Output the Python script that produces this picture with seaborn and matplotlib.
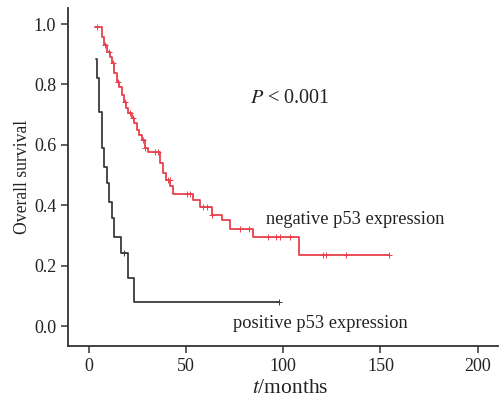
import numpy as np
import pandas as pd
import seaborn as sns
import matplotlib.pyplot as plt

# Kaplan-Meier step values (time in months, survival)
neg_time = [3.1, 6.7, 7.9, 9.3, 10.6, 11.8, 13.1, 14.3, 15.6, 16.8, 18.0, 19.0, 20.2,
            21.9, 23.1, 24.5, 25.8, 27.1, 28.8, 30.5, 36.5, 37.9, 39.6, 41.7, 43.4,
            53.6, 57.1, 63.1, 68.2, 72.5, 84.2, 107.9, 154.4]
neg_surv = [0.991, 0.958, 0.930, 0.908, 0.892, 0.870, 0.837, 0.809, 0.792, 0.765,
            0.743, 0.721, 0.704, 0.688, 0.671, 0.649, 0.632, 0.616, 0.588, 0.577,
            0.539, 0.506, 0.483, 0.464, 0.436, 0.417, 0.395, 0.368, 0.351, 0.323,
            0.294, 0.235, 0.235]
neg_censor = [4.1, 8.2, 10.2, 12.2, 14.8, 18.5, 21.1, 22.7, 27.9, 28.8, 33.9, 35.5,
              40.6, 41.6, 50.3, 51.9, 58.9, 60.9, 63.3, 77.6, 82.4, 92.2, 96.5, 98.1,
              103.3, 120.2, 121.9, 132.5, 154.4]

pos_time = [3.6, 4.0, 5.1, 6.8, 7.9, 9.1, 10.3, 11.7, 13.0, 16.5, 19.9, 23.3, 97.7]
pos_surv = [0.883, 0.820, 0.710, 0.588, 0.528, 0.473, 0.412, 0.357, 0.295, 0.241,
            0.158, 0.080, 0.080]
pos_censor = [18.1, 97.7]

red = '#e8404b'
dark = '#3a3a3a'

sns.set_style('ticks')
plt.rcParams['font.family'] = ['Liberation Serif', 'DejaVu Serif']
plt.rcParams['mathtext.fontset'] = 'stix'


def censor_points(times, surv, cens):
    t = np.array(times)
    s = np.array(surv)
    idx = np.searchsorted(t, cens, side='right') - 1
    return pd.DataFrame({'time': cens, 'surv': s[idx]})


df = pd.concat([
    pd.DataFrame({'time': neg_time, 'surv': neg_surv, 'group': 'negative'}),
    pd.DataFrame({'time': pos_time, 'surv': pos_surv, 'group': 'positive'}),
])

fig = plt.figure(figsize=(4.99, 4.04), dpi=100)
ax = fig.add_axes([0.1363, 0.1436, 0.8617, 0.8364])

sns.lineplot(data=df, x='time', y='surv', hue='group', estimator=None, sort=False,
             drawstyle='steps-post', palette={'negative': red, 'positive': dark},
             linewidth=1.3, legend=False, ax=ax)

nc = censor_points(neg_time, neg_surv, neg_censor)
pc = censor_points(pos_time, pos_surv, pos_censor)
sns.scatterplot(data=nc, x='time', y='surv', marker='+', s=14, color=red,
                linewidth=0.7, ax=ax, legend=False)
sns.scatterplot(data=pc, x='time', y='surv', marker='+', s=14, color=dark,
                linewidth=0.7, ax=ax, legend=False)

ax.set_xlim(-10.8, 210.5)
ax.set_ylim(-0.066, 1.053)
ax.set_xticks([0, 50, 100, 150, 200])
ax.set_yticks([0.0, 0.2, 0.4, 0.6, 0.8, 1.0])
ax.set_yticklabels(['0.0', '0.2', '0.4', '0.6', '0.8', '1.0'])
ax.tick_params(direction='out', length=5, width=1.1, colors='#333333',
               labelsize=13, labelcolor='#222222')
for side in ['left', 'bottom']:
    ax.spines[side].set_linewidth(1.3)
    ax.spines[side].set_color('#333333')
sns.despine(ax=ax)

ax.set_xlabel('$t$/months', fontsize=15.5, color='#222222')
ax.xaxis.set_label_coords(0.517, -0.097)
ax.set_ylabel('Overall survival', fontsize=12.7, color='#222222', labelpad=2)

ax.text(82.8, 0.755, '$P$ < 0.001', fontsize=14.5, color='#222222', va='center')
ax.text(91, 0.354, 'negative p53 expression', fontsize=13.2, color='#222222', va='center')
ax.text(74, 0.01, 'positive p53 expression', fontsize=13.2, color='#222222', va='center')

fig.savefig('out.png', dpi=100)
